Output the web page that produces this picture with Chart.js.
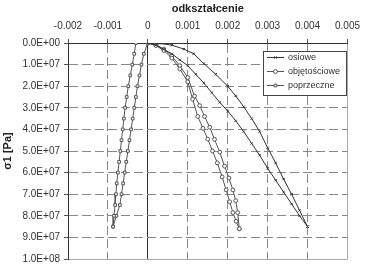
<!DOCTYPE html>
<html>
<head>
<meta charset="utf-8">
<script src="https://cdn.jsdelivr.net/npm/chart.js@4.4.0/dist/chart.umd.min.js"></script>
<style>
  html, body { margin: 0; padding: 0; background: #fff; }
</style>
</head>
<body>
<canvas id="chart" width="367" height="274"></canvas>
<script>
// osie
const xTickValues = [-0.002, -0.001, 0, 0.001, 0.002, 0.003, 0.004, 0.005];
const xTickLabels = ['-0.002', '-0.001', '0', '0.001', '0.002', '0.003', '0.004', '0.005'];
const yTickValues = [0, 1e7, 2e7, 3e7, 4e7, 5e7, 6e7, 7e7, 8e7, 9e7, 1e8];
const yTickLabels = ['0.0E+00', '1.0E+07', '2.0E+07', '3.0E+07', '4.0E+07', '5.0E+07',
                     '6.0E+07', '7.0E+07', '8.0E+07', '9.0E+07', '1.0E+08'];
const seriesNames = ['osiowe', 'objętościowe', 'poprzeczne'];

// osiowe - dwie krzywe
const osioweAStrain = [0, 0.0003, 0.0006, 0.0009, 0.00115, 0.0014, 0.0017, 0.002, 0.0022, 0.0024,
                       0.0026, 0.0028, 0.003, 0.0032, 0.0034, 0.0036, 0.0038, 0.004];
const osioweAStress = [0, 0.02e7, 0.1e7, 0.28e7, 0.5e7, 0.95e7, 1.45e7, 2.0e7, 2.45e7, 2.95e7,
                       3.5e7, 4.1e7, 4.85e7, 5.55e7, 6.3e7, 7.0e7, 7.75e7, 8.5e7];
const osioweBStrain = [0, 0.0002, 0.0004, 0.0006, 0.0008, 0.001, 0.0012, 0.0014, 0.0016, 0.0018, 0.002,
                       0.0022, 0.0024, 0.0026, 0.0028, 0.003, 0.0032, 0.0034, 0.0036, 0.0038, 0.004];
const osioweBStress = [0, 0.1e7, 0.3e7, 0.5e7, 0.78e7, 1.05e7, 1.45e7, 1.85e7, 2.3e7, 2.75e7, 3.15e7,
                       3.6e7, 4.1e7, 4.65e7, 5.2e7, 5.8e7, 6.35e7, 6.9e7, 7.45e7, 8.0e7, 8.5e7];

// objętościowe
const objAStrain = [0, 0.0002, 0.0004, 0.0006, 0.0008, 0.001, 0.00112, 0.00125, 0.00138, 0.0015,
                    0.00162, 0.00174, 0.00186, 0.00196, 0.00205, 0.00213, 0.00221, 0.00229];
const objAStress = [0, 0.12e7, 0.35e7, 0.7e7, 1.2e7, 1.8e7, 2.6e7, 3.4e7, 3.95e7, 4.45e7,
                    5.0e7, 5.55e7, 6.2e7, 6.8e7, 7.35e7, 7.85e7, 8.25e7, 8.6e7];
const objBStrain = [0, 0.0002, 0.0004, 0.0006, 0.0008, 0.001, 0.00117, 0.0013, 0.00142, 0.00155,
                    0.00167, 0.0018, 0.00192, 0.00203, 0.00213, 0.0022, 0.00225, 0.00229];
const objBStress = [0, 0.08e7, 0.28e7, 0.6e7, 1.05e7, 1.6e7, 2.46e7, 2.9e7, 3.4e7, 3.9e7,
                    4.46e7, 5.05e7, 5.7e7, 6.25e7, 6.8e7, 7.3e7, 7.85e7, 8.6e7];

// poprzeczne
const popAStrain = [-0.0003, -0.00034, -0.00039, -0.00044, -0.00049, -0.00053, -0.00057, -0.0006, -0.00063,
                    -0.00066, -0.00069, -0.00072, -0.00075, -0.00078, -0.0008, -0.00082, -0.00085, -0.00087];
const popAStress = [0, 0.5e7, 1e7, 1.5e7, 2e7, 2.5e7, 3e7, 3.5e7, 4e7,
                    4.5e7, 5e7, 5.5e7, 6e7, 6.5e7, 7e7, 7.5e7, 8e7, 8.5e7];
const popBStrain = [0, -0.0001, -0.00016, -0.00021, -0.00026, -0.0003, -0.00034, -0.00038, -0.00042,
                    -0.00046, -0.0005, -0.00054, -0.00058, -0.00062, -0.00066, -0.0007, -0.00079, -0.00087];
const popBStress = [0, 0.5e7, 1e7, 1.5e7, 2e7, 2.5e7, 3e7, 3.5e7, 4e7,
                    4.5e7, 5e7, 5.5e7, 6e7, 6.5e7, 7e7, 7.5e7, 8e7, 8.5e7];

function toPoints(xs, ys) {
    return xs.map((x, i) => ({ x: x, y: ys[i] }));
}

const styles = [
    { color: '#333', pointStyle: 'crossRot', radius: 1.6, bg: '#333' },
    { color: '#555', pointStyle: 'circle', radius: 1.9, bg: '#fff' },
    { color: '#555', pointStyle: 'rect', radius: 1.9, bg: '#fff' }
];

function makeDataset(group, xs, ys) {
    const s = styles[group];
    return {
        label: seriesNames[group],
        group: group,
        data: toPoints(xs, ys),
        showLine: true,
        borderColor: s.color,
        borderWidth: 1,
        pointStyle: s.pointStyle,
        pointRadius: s.radius,
        pointBorderWidth: 1,
        pointBorderColor: s.color,
        pointBackgroundColor: s.bg
    };
}

// legenda w ramce w obszarze wykresu
const boxLegend = {
    id: 'boxLegend',
    afterDraw(chart) {
        const ctx = chart.ctx;
        const x0 = 263, y0 = 51, w = 83, h = 44;
        ctx.save();
        ctx.fillStyle = '#fff';
        ctx.fillRect(x0, y0, w, h);
        ctx.strokeStyle = '#444';
        ctx.lineWidth = 1;
        ctx.strokeRect(x0 + 0.5, y0 + 0.5, w, h);
        ctx.font = '9px "Liberation Sans", Arial, sans-serif';
        ctx.textBaseline = 'middle';
        seriesNames.forEach((name, i) => {
            const s = styles[i];
            const y = 57.5 + i * 14;
            ctx.strokeStyle = s.color;
            ctx.beginPath();
            ctx.moveTo(267, y);
            ctx.lineTo(284, y);
            ctx.stroke();
            ctx.fillStyle = s.bg;
            Chart.helpers.drawPoint(ctx, { pointStyle: s.pointStyle, radius: s.radius, rotation: 0, borderWidth: 1 }, 275.5, y);
            ctx.fillStyle = '#333';
            ctx.fillText(name, 288, y);
        });
        ctx.restore();
    }
};

function gridDash(limits) {
    return function (ctx) {
        if (!ctx.tick) return [];
        return limits.includes(ctx.tick.value) ? [] : [9, 4];
    };
}

new Chart(document.getElementById('chart'), {
    type: 'scatter',
    data: {
        datasets: [
            makeDataset(0, osioweAStrain, osioweAStress),
            makeDataset(0, osioweBStrain, osioweBStress),
            makeDataset(1, objAStrain, objAStress),
            makeDataset(1, objBStrain, objBStress),
            makeDataset(2, popAStrain, popAStress),
            makeDataset(2, popBStrain, popBStress)
        ]
    },
    options: {
        responsive: false,
        animation: false,
        layout: { padding: { left: 0, top: 0, right: 15, bottom: 15 } },
        plugins: {
            legend: { display: false },
            tooltip: { enabled: false }
        },
        scales: {
            x: {
                type: 'linear',
                position: 'top',
                min: -0.002,
                max: 0.005,
                afterBuildTicks: s => { s.ticks = xTickValues.map(v => ({ value: v })); },
                afterFit: s => { s.height = 43; },
                ticks: {
                    callback: (v, i) => xTickLabels[i],
                    color: '#333',
                    padding: 7,
                    maxRotation: 0,
                    font: { family: '"Liberation Sans", Arial, sans-serif', size: 10 }
                },
                grid: {
                    color: c => (c.tick && c.tick.value === 0) ? '#333' : (c.tick && c.tick.value === 0.005 ? '#aaa' : '#888'),
                    tickLength: 4,
                    tickColor: '#555'
                },
                border: { display: true, color: '#333', width: 1, dash: gridDash([0, -0.002, 0.005]) },
                title: {
                    display: true,
                    text: 'odkształcenie',
                    color: '#222',
                    padding: { top: 2, bottom: 0 },
                    font: { family: '"Liberation Sans", Arial, sans-serif', size: 11, weight: 'bold' }
                }
            },
            y: {
                type: 'linear',
                reverse: true,
                min: 0,
                max: 1e8,
                afterBuildTicks: s => { s.ticks = yTickValues.map(v => ({ value: v })); },
                afterFit: s => { s.width = 68; },
                ticks: {
                    callback: (v, i) => yTickLabels[i],
                    color: '#333',
                    padding: 4,
                    font: { family: '"Liberation Sans", Arial, sans-serif', size: 10 }
                },
                grid: {
                    color: c => (c.tick && c.tick.value === 1e8) ? '#aaa' : '#888',
                    tickLength: 4,
                    tickColor: '#555'
                },
                border: { display: true, color: '#333', width: 1, dash: gridDash([0, 1e8]) },
                title: {
                    display: true,
                    text: 'σ1 [Pa]',
                    color: '#222',
                    padding: { top: 1, bottom: 0 },
                    font: { family: '"Liberation Sans", Arial, sans-serif', size: 11, weight: 'bold' }
                }
            }
        }
    },
    plugins: [boxLegend]
});
</script>
</body>
</html>
